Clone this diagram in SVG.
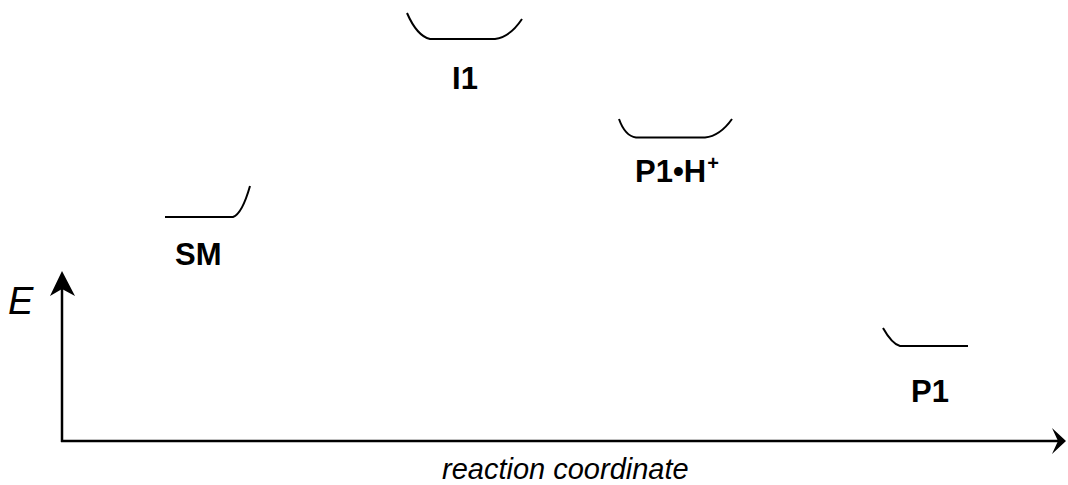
<svg xmlns="http://www.w3.org/2000/svg" width="1068" height="485" viewBox="0 0 1068 485">
<style>
.lvl{fill:none;stroke:#000;stroke-width:2}
.lab{font-family:"Liberation Sans",Arial,sans-serif;font-weight:bold;font-size:31px;fill:#000}
.ax{font-family:"Liberation Sans",Arial,sans-serif;font-style:italic;fill:#000}
</style>
<rect width="1068" height="485" fill="#fff"/>
<g id="axes">
<line x1="62" y1="442" x2="62" y2="288" stroke="#000" stroke-width="2.5"/>
<line x1="61" y1="441" x2="1058" y2="441" stroke="#000" stroke-width="2.5"/>
<path d="M62,271 L75,296 L62,289 L50,296 Z" fill="#000"/>
<path d="M1066,441 L1052,428 L1058,441 L1052,454 Z" fill="#000"/>
<text class="ax" x="8" y="314" font-size="38">E</text>
<text class="ax" x="442" y="479" font-size="29">reaction coordinate</text>
</g>
<g id="SM">
<path class="lvl" d="M165,217 L233,217 Q242,214 250,186"/>
<text class="lab" x="175" y="265">SM</text>
</g>
<g id="I1">
<path class="lvl" d="M407,13 Q417,36 430,39 L495,39 Q510,37 522,19"/>
<text class="lab" x="465" y="89" text-anchor="middle">I1</text>
</g>
<g id="P1H">
<path class="lvl" d="M619,119 Q625,136 636,137.5 L705,137.5 Q720,136 732,119"/>
<text class="lab" x="635" y="182">P1•H<tspan font-size="20" dx="1" dy="-12">+</tspan></text>
</g>
<g id="P1">
<path class="lvl" d="M883,328 Q892,344 900,346 L968,346"/>
<text class="lab" x="911" y="402">P1</text>
</g>
</svg>
